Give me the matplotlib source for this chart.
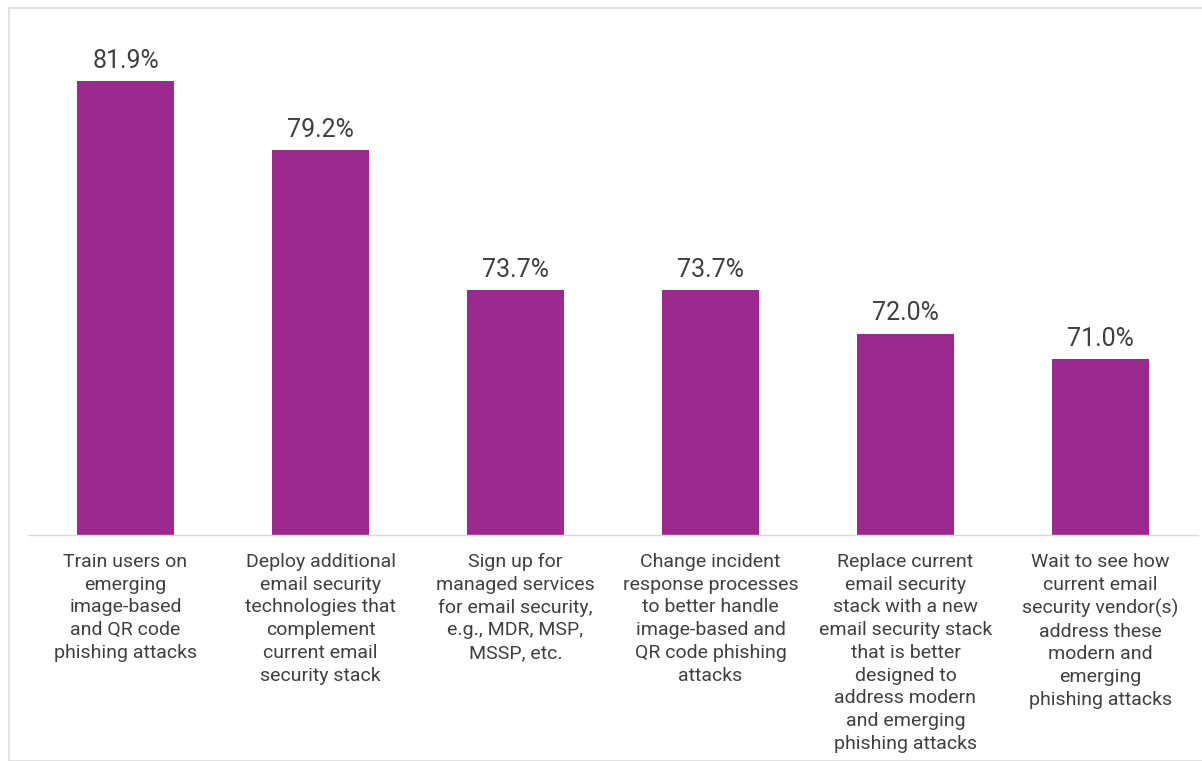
import matplotlib
matplotlib.use("Agg")
import matplotlib.pyplot as plt
from matplotlib.patches import Rectangle

categories = [
    "Train users on\nemerging\nimage-based\nand QR code\nphishing attacks",
    "Deploy additional\nemail security\ntechnologies that\ncomplement\ncurrent email\nsecurity stack",
    "Sign up for\nmanaged services\nfor email security,\ne.g., MDR, MSP,\nMSSP, etc.",
    "Change incident\nresponse processes\nto better handle\nimage-based and\nQR code phishing\nattacks",
    "Replace current\nemail security\nstack with a new\nemail security stack\nthat is better\ndesigned to\naddress modern\nand emerging\nphishing attacks",
    "Wait to see how\ncurrent email\nsecurity vendor(s)\naddress these\nmodern and\nemerging\nphishing attacks",
]
values = [81.9, 79.2, 73.7, 73.7, 72.0, 71.0]
value_labels = ["81.9%", "79.2%", "73.7%", "73.7%", "72.0%", "71.0%"]

BAR = "#9C2A8E"
TXT = "#404040"
plt.rcParams['font.family'] = ['Roboto', 'DejaVu Sans']

W, H = 1202, 761
fig = plt.figure(figsize=(W/100, H/100), dpi=100)
fig.patches.append(Rectangle((9/W, 0), 1.2, (H-8)/H, transform=fig.transFigure,
                             fill=False, edgecolor="#DDDDDD", linewidth=1.2))

ax = fig.add_axes([28/W, (H-535)/H, 1170/W, 527/H])
x = list(range(len(values)))
ymin = 64.1
ax.bar(x, [v - ymin for v in values], bottom=ymin, width=0.5, color=BAR)
ax.set_xlim(-0.5, len(values) - 0.5)
ax.set_ylim(ymin, ymin + 527/25.5)
for xi, v, lab in zip(x, values, value_labels):
    ax.annotate(lab, (xi, v), xytext=(0, 6), textcoords="offset points",
                ha="center", va="bottom", fontsize=18, color=TXT)
ax.set_xticks(x)
ax.set_xticklabels(categories, fontsize=14, color=TXT, linespacing=1.335)
ax.tick_params(axis="x", length=0, pad=13)
ax.set_yticks([])
for s in ["top", "right", "left"]:
    ax.spines[s].set_visible(False)
ax.spines["bottom"].set_color("#D9D9D9")
ax.spines["bottom"].set_linewidth(1.0)

fig.savefig("out.png", dpi=100)
